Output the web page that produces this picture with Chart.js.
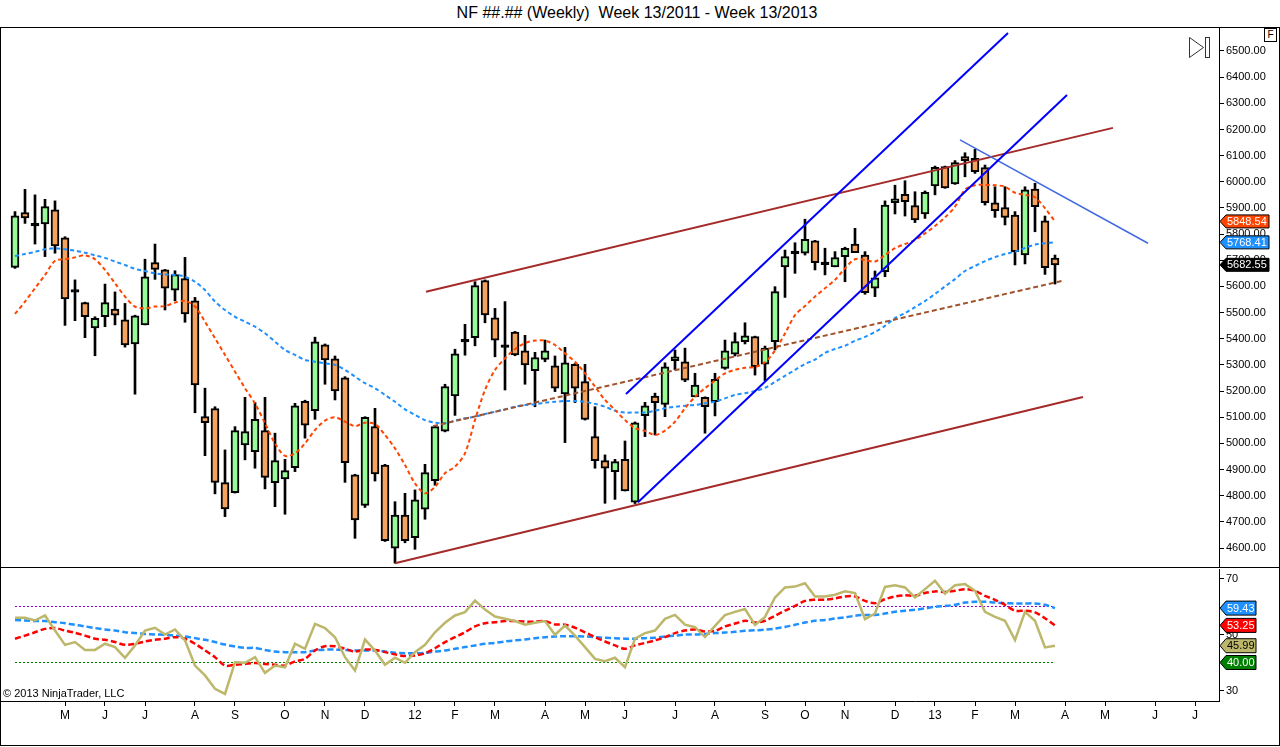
<!DOCTYPE html>
<html>
<head>
<meta charset="utf-8">
<title>NF Weekly</title>
<script src="https://cdn.jsdelivr.net/npm/chart.js@4.4.1/dist/chart.umd.min.js"></script>
<style>
  html, body { margin:0; padding:0; background:#fff; }
  body { width:1280px; height:747px; position:relative; overflow:hidden; font-family: Arial, "Liberation Sans", sans-serif; }
  #title { position:absolute; left:0; top:4px; width:1274px; text-align:center; font-size:16px; line-height:18px; color:#000; white-space:pre; }
  #frame { position:absolute; left:0; top:27px; width:1278px; height:717px; border:1px solid #000; }
  #sep { position:absolute; left:0; top:567px; width:1280px; height:1px; background:#000; }
  canvas { position:absolute; left:0; }
  #c1 { top:28px; }
  #c2 { top:568px; }
  #copy { position:absolute; left:3px; top:687px; font-size:11px; line-height:13px; color:#000; }
  #fbox { position:absolute; left:1264px; top:28px; width:11px; height:12px; border:1px solid #000; font-size:10px; line-height:12px; text-align:center; background:#fff; }
</style>
</head>
<body>
<div id="title">NF ##.## (Weekly)  Week 13/2011 - Week 13/2013</div>
<div id="frame"></div>
<canvas id="c1" width="1280" height="539"></canvas>
<div id="sep"></div>
<canvas id="c2" width="1280" height="178"></canvas>
<div id="copy">© 2013 NinjaTrader, LLC</div>
<div id="fbox">F</div>
<script>
// ---------------- DATA ----------------
// weekly bars, index 0 = week 13/2011 ... 104 = week 13/2013
const opens = [5673,5882,5836,5839,5893,5786,5583,5538,5441,5484,
5513,5472,5380,5453,5691,5663,5586,5630,5545,5102,
5133,4850,4812,4994,4968,5049,4850,4864,4907,5161,
5125,5377,5323,5251,4880,4763,5064,4917,4599,4726,
4640,4748,4857,5047,5181,5393,5404,5622,5480,5372,
5425,5354,5278,5321,5296,5189,5302,5236,5026,4934,
4892,4939,4775,5106,5181,5149,5316,5312,5178,5176,
5159,5287,5341,5389,5408,5303,5389,5675,5730,5727,
5774,5688,5675,5714,5762,5720,5593,5656,5920,5952,
5909,5877,5984,6058,5992,6096,6090,6054,5920,5901,
5873,5720,5972,5851,5708];
const highs = [5886,5971,5950,5933,5927,5790,5625,5540,5484,5609,
5579,5535,5490,5704,5762,5665,5660,5711,5558,5211,
5140,4975,5064,5176,5157,5176,5039,4939,5153,5165,
5406,5380,5334,5255,4882,5102,5134,4920,4777,4809,
4822,4920,5066,5226,5360,5455,5618,5625,5516,5542,
5428,5413,5348,5395,5334,5367,5305,5302,5140,4956,
4939,5009,5082,5157,5192,5308,5357,5364,5268,5178,
5268,5395,5423,5461,5410,5372,5599,5739,5767,5857,
5776,5746,5733,5750,5822,5733,5659,5927,5987,6004,
5962,5965,6060,6060,6081,6111,6124,6064,5981,5981,
5886,5981,5994,5869,5720];
const lows = [5669,5841,5762,5714,5727,5451,5469,5404,5335,5446,
5453,5368,5188,5453,5627,5510,5545,5463,5117,4953,
4807,4720,4810,4937,4905,4826,4758,4729,4892,5020,
5092,5226,5166,4851,4637,4755,4856,4625,4542,4620,
4595,4710,4840,5044,5107,5337,5373,5461,5331,5204,
5335,5226,5140,5312,5198,5003,5156,5089,4905,4771,
4786,4818,4770,5026,5032,5102,5281,5236,5178,5039,
5105,5283,5334,5380,5261,5240,5357,5558,5650,5720,
5663,5644,5675,5618,5729,5570,5561,5637,5877,5869,
5844,5860,5950,5975,5990,6019,6032,5911,5864,5835,
5682,5686,5809,5646,5609];
const closes = [5870,5862,5836,5905,5755,5552,5583,5484,5478,5538,
5490,5376,5488,5637,5665,5593,5645,5495,5223,5079,
4851,4749,5049,5045,5092,4870,4934,4896,5144,5070,
5388,5319,5201,4926,4707,5100,4883,4628,4726,4628,
4784,4888,5064,5217,5342,5393,5603,5491,5395,5372,
5338,5300,5328,5354,5211,5308,5211,5092,4934,4905,
4930,4818,5079,5144,5156,5293,5331,5242,5223,5140,
5245,5354,5389,5411,5293,5364,5580,5714,5730,5780,
5691,5688,5710,5746,5729,5576,5633,5911,5935,5924,
5854,5960,6055,5977,6073,6081,6039,5920,5890,5864,
5733,5969,5905,5672,5682.55];
// moving averages
const maFast = [5495,5542,5593,5644,5698,5704,5711,5719,5704,5663,
5612,5561,5523,5516,5523,5525,5538,5545,5523,5465,
5402,5338,5274,5211,5153,5077,5000,4952,4962,5000,
5051,5087,5100,5083,5066,5079,5074,5032,4981,4917,
4847,4809,4834,4886,4911,4962,5089,5204,5281,5325,
5360,5383,5393,5393,5376,5344,5312,5268,5217,5166,
5128,5089,5058,5048,5032,5049,5083,5134,5178,5211,
5240,5268,5281,5289,5292,5310,5355,5420,5490,5525,
5561,5593,5625,5669,5704,5701,5695,5720,5746,5762,
5777,5803,5831,5864,5905,5969,5987,5988,5987,5981,
5958,5950,5941,5899,5848.54];
const maSlow = [5716,5724,5732,5742,5746,5742,5737,5729,5719,5709,
5695,5682,5667,5659,5650,5646,5644,5637,5618,5586,
5542,5510,5484,5465,5446,5421,5389,5357,5338,5319,
5312,5306,5300,5281,5255,5230,5211,5185,5159,5130,
5109,5089,5079,5077,5087,5096,5102,5112,5121,5130,
5140,5147,5149,5156,5159,5162,5162,5159,5151,5140,
5125,5118,5118,5118,5125,5134,5140,5144,5147,5153,
5159,5172,5185,5192,5200,5212,5235,5258,5281,5304,
5320,5346,5361,5373,5392,5407,5426,5449,5479,5498,
5521,5544,5571,5600,5628,5659,5678,5697,5712,5724,
5733,5747,5760,5765,5768.41];
// oscillator panel
const oscLine = [55.95,55.95,55.0,56.8,51.4,46.3,47.3,44.5,44.5,46.7,
45.5,41.7,46.1,51.4,52.4,50.0,51.8,47.9,38.9,35.4,
30.6,28.8,40.1,39.9,41.9,36.3,38.9,38.3,46.7,44.9,
53.8,52.3,49.0,41.9,37.1,48.2,44.3,39.2,41.7,39.9,
43.7,46.3,50.8,54.2,56.8,58.0,62.1,58.9,56.4,55.6,
54.8,53.5,54.2,54.8,49.9,53.2,49.6,45.5,41.3,40.5,
41.7,38.3,48.5,50.5,51.4,55.6,57.0,53.5,52.6,49.1,
53.1,56.9,58.1,59.1,53.4,56.3,63.2,66.8,67.1,68.3,
63.6,63.6,64.2,65.4,64.8,55.5,57.5,67.0,67.6,66.8,
63.2,66.2,69.2,64.6,67.6,68.0,65.6,58.1,56.3,54.9,
48.0,58.1,54.9,45.4,45.99];
const oscSignal = [48.5,49.6,50.8,52.0,52.3,51.4,50.6,49.6,48.5,48.1,
47.3,46.3,46.7,47.5,48.1,48.5,49.05,48.5,46.7,44.3,
41.9,38.9,39.2,39.5,39.8,39.5,39.2,38.9,40.4,41.3,
44.3,45.8,45.8,44.9,43.9,44.6,44.5,43.7,42.9,42.3,
42.5,43.3,45.1,47.3,49.05,50.8,52.9,54.05,54.4,54.8,
54.8,54.6,54.6,54.8,53.6,53.5,52.4,50.8,49.05,47.5,
46.1,44.9,46.1,47.0,47.9,49.05,50.5,51.4,51.8,51.1,
51.3,52.9,53.9,54.9,54.3,54.9,56.7,58.5,60.2,62.0,
62.4,62.4,62.9,63.6,63.6,62.0,61.2,62.6,63.6,64.0,
63.8,64.8,65.4,65.2,65.6,66.2,65.6,63.8,62.4,60.6,
58.5,58.5,57.9,55.8,53.25];
const oscSlow = [55.2,55.0,54.8,54.8,54.4,54.05,53.45,52.9,52.3,51.8,
51.4,50.8,50.5,50.2,50.0,49.9,49.6,49.3,48.7,48.1,
47.3,46.4,45.7,45.2,45.2,44.5,43.9,43.7,43.7,43.7,
44.3,44.6,44.6,44.5,44.3,44.3,44.3,43.9,43.45,43.3,
43.3,43.45,43.9,44.3,44.9,45.5,46.1,46.7,47.0,47.5,
47.9,48.2,48.7,49.05,49.3,49.4,49.4,49.3,49.05,48.8,
48.7,48.5,48.5,48.7,48.8,49.3,49.6,50.0,50.0,50.2,
50.5,50.7,50.95,51.3,51.5,51.7,52.1,52.7,53.45,54.3,
54.9,55.2,55.7,56.1,56.7,57.0,57.0,57.5,58.1,58.5,
58.8,59.3,59.9,60.2,60.6,61.4,61.7,61.7,61.4,61.2,
61.1,61.1,61.1,60.6,59.43];
const oscUpper = 60, oscLower = 40;
// drawn trend lines: [weekIndex, price] end points
const chanUpperRed = [[41.1, 5580], [109.8, 6206]];
const chanLowerRed = [[38.0, 4542], [106.8, 5177]];
const midDashed    = [[41.8, 5066], [104.7, 5621]];
const chanUpperBlue = [[61.1, 5189], [99.3, 6569]];
const chanLowerBlue = [[62.3, 4775], [105.2, 6332]];
const fallingLine  = [[94.5, 6160], [113.3, 5765]];
// axes
const priceTicks = [4600,4700,4800,4900,5000,5100,5200,5300,5400,5500,5600,5700,5800,5900,6000,6100,6200,6300,6400,6500];
const oscTicks = [30, 50, 70];
const monthTickIdx = [5,9,13,18,22,27,31,35,40,44,48,53,57,61,66,70,75,79,83,88,92,96,100,105,109,114,118];
const monthTickLbl = ['M','J','J','A','S','O','N','D','12','F','M','A','M','J','J','A','S','O','N','D','13','F','M','A','M','J','J'];

// ---------------- CHART ----------------
const FONT = 'Arial, "Liberation Sans", sans-serif';
Chart.defaults.font.family = FONT;
Chart.defaults.color = '#000';
Chart.defaults.animation = false;

const X_MIN = -1.4, X_MAX = 120.4;
const GREEN = '#98FB98', ORANGE = '#F4A460';

const wickData = highs.map((h, i) => ({x: i, y: [lows[i], h]}));
const isDoji = opens.map((o, i) => Math.abs(o - closes[i]) < 1);
const bodyData = opens.map((o, i) => isDoji[i] ? {x: i, y: [o - 5, o + 5]} : {x: i, y: [o, closes[i]]});
const bodyColors = opens.map((o, i) => isDoji[i] ? '#000' : (closes[i] > o ? GREEN : ORANGE));

const toXY = arr => arr.map((v, i) => ({x: i, y: v}));
const seg = pts => pts.map(p => ({x: p[0], y: p[1]}));

function drawTag(ctx, tipX, y, text, bg, fg, right, h) {
  ctx.save();
  ctx.beginPath();
  ctx.moveTo(tipX, y);
  ctx.lineTo(tipX + 6, y - h / 2);
  ctx.lineTo(right, y - h / 2);
  ctx.lineTo(right, y + h / 2);
  ctx.lineTo(tipX + 6, y + h / 2);
  ctx.closePath();
  ctx.fillStyle = bg;
  ctx.fill();
  ctx.lineWidth = 1;
  ctx.strokeStyle = '#000';
  ctx.stroke();
  ctx.fillStyle = fg;
  ctx.font = '11px ' + FONT;
  ctx.textBaseline = 'middle';
  ctx.textAlign = 'left';
  ctx.fillText(text, tipX + 7, y + 0.5);
  ctx.restore();
}

const mainTags = {
  id: 'mainTags',
  afterDraw(chart) {
    const ctx = chart.ctx, ys = chart.scales.y, r = chart.chartArea.right;
    [[maFast[maFast.length - 1], '#FF4500', '#fff'],
     [maSlow[maSlow.length - 1], '#1E90FF', '#fff'],
     [closes[closes.length - 1], '#000', '#fff']].forEach(([v, bg, fg]) => {
      drawTag(ctx, r + 1, ys.getPixelForValue(v), v.toFixed(2), bg, fg, 1269, 13);
    });
    // play/end icon
    ctx.save();
    ctx.strokeStyle = '#333';
    ctx.lineWidth = 1;
    ctx.beginPath();
    ctx.moveTo(1189.5, 9.5); ctx.lineTo(1189.5, 29.5); ctx.lineTo(1203.5, 19.5); ctx.closePath();
    ctx.stroke();
    ctx.strokeRect(1205.5, 9.5, 4, 20);
    ctx.restore();
  }
};

const oscTags = {
  id: 'oscTags',
  afterDraw(chart) {
    const ctx = chart.ctx, ys = chart.scales.y, r = chart.chartArea.right;
    [[oscSlow[oscSlow.length - 1], '#1E90FF', '#fff'],
     [oscSignal[oscSignal.length - 1], '#FF0000', '#fff'],
     [oscLine[oscLine.length - 1], '#BDB76B', '#000'],
     [oscLower, '#008000', '#fff']].forEach(([v, bg, fg]) => {
      drawTag(ctx, r + 1, ys.getPixelForValue(v), v.toFixed(2), bg, fg, 1256, 14);
    });
  }
};

const lineDs = (data, color, width, dash, order, tension) => ({
  type: 'line', data, borderColor: color, borderWidth: width, borderDash: dash || [],
  pointRadius: 0, fill: false, tension: tension || 0, order, clip: false
});

new Chart(document.getElementById('c1'), {
  type: 'bar',
  data: {
    datasets: [
      {type: 'bar', data: wickData, backgroundColor: '#000', barThickness: 2, grouped: false, order: 20, borderWidth: 0},
      {type: 'bar', data: bodyData, backgroundColor: bodyColors, borderColor: '#000', borderWidth: 2,
       borderSkipped: false, barThickness: 8, grouped: false, order: 19},
      lineDs(toXY(maSlow), '#1E90FF', 2, [4, 3], 10, 0.3),
      lineDs(toXY(maFast), '#FF4500', 2, [4, 3], 9, 0.3),
      lineDs(seg(chanUpperRed), '#A52A2A', 2, null, 3),
      lineDs(seg(chanLowerRed), '#A52A2A', 2, null, 3),
      lineDs(seg(midDashed), '#A0522D', 2, [5, 3], 3),
      lineDs(seg(chanUpperBlue), '#0000FF', 2, null, 2),
      lineDs(seg(chanLowerBlue), '#0000FF', 2, null, 2),
      lineDs(seg(fallingLine), '#4169E1', 1.5, null, 2)
    ]
  },
  options: {
    responsive: false, devicePixelRatio: 1, animation: false,
    layout: {padding: {left: 1, right: 0, top: 0, bottom: 0}},
    plugins: {legend: {display: false}, tooltip: {enabled: false}},
    scales: {
      x: {type: 'linear', min: X_MIN, max: X_MAX, display: false, offset: false},
      y: {
        position: 'right', min: 4527.4, max: 6587.9,
        afterFit(s) { s.width = 61; s.paddingTop = 0; s.paddingBottom = 0; },
        afterBuildTicks(s) { s.ticks = priceTicks.map(v => ({value: v})); },
        ticks: {callback: v => Number(v).toFixed(2), font: {size: 11}, color: '#000', padding: 2},
        grid: {drawOnChartArea: false, tickLength: 5, color: '#000'},
        border: {display: true, color: '#000', width: 1}
      }
    }
  },
  plugins: [mainTags]
});

new Chart(document.getElementById('c2'), {
  type: 'line',
  data: {
    datasets: [
      lineDs([{x: 0, y: oscUpper}, {x: 104, y: oscUpper}], '#9400D3', 1, [2, 2], 10),
      lineDs([{x: 0, y: oscLower}, {x: 104, y: oscLower}], '#008000', 1, [2, 2], 10),
      lineDs(toXY(oscSlow), '#1E90FF', 2.5, [6, 3], 6, 0.3),
      lineDs(toXY(oscSignal), '#FF0000', 2.5, [6, 3], 5, 0.3),
      lineDs(toXY(oscLine), '#BDB76B', 2.5, null, 4, 0)
    ]
  },
  options: {
    responsive: false, devicePixelRatio: 1, animation: false,
    layout: {padding: {left: 1, right: 0, top: 1, bottom: 0}},
    plugins: {legend: {display: false}, tooltip: {enabled: false}},
    scales: {
      x: {
        type: 'linear', min: X_MIN, max: X_MAX, offset: false,
        afterFit(s) { s.height = 45; s.paddingLeft = 0; s.paddingRight = 0; },
        afterBuildTicks(s) { s.ticks = monthTickIdx.map(v => ({value: v})); },
        ticks: {
          autoSkip: false, maxRotation: 0, font: {size: 12}, color: '#000', padding: 2,
          callback: v => monthTickLbl[monthTickIdx.indexOf(v)]
        },
        grid: {drawOnChartArea: false, tickLength: 5, color: '#000'},
        border: {display: true, color: '#000', width: 1}
      },
      y: {
        position: 'right', min: 26.25, max: 73.393,
        afterFit(s) { s.width = 61; s.paddingTop = 0; s.paddingBottom = 0; },
        afterBuildTicks(s) { s.ticks = oscTicks.map(v => ({value: v})); },
        ticks: {callback: v => String(v), font: {size: 11}, color: '#000', padding: 2},
        grid: {drawOnChartArea: false, tickLength: 5, color: '#000'},
        border: {display: true, color: '#000', width: 1}
      }
    }
  },
  plugins: [oscTags]
});
</script>
</body>
</html>
